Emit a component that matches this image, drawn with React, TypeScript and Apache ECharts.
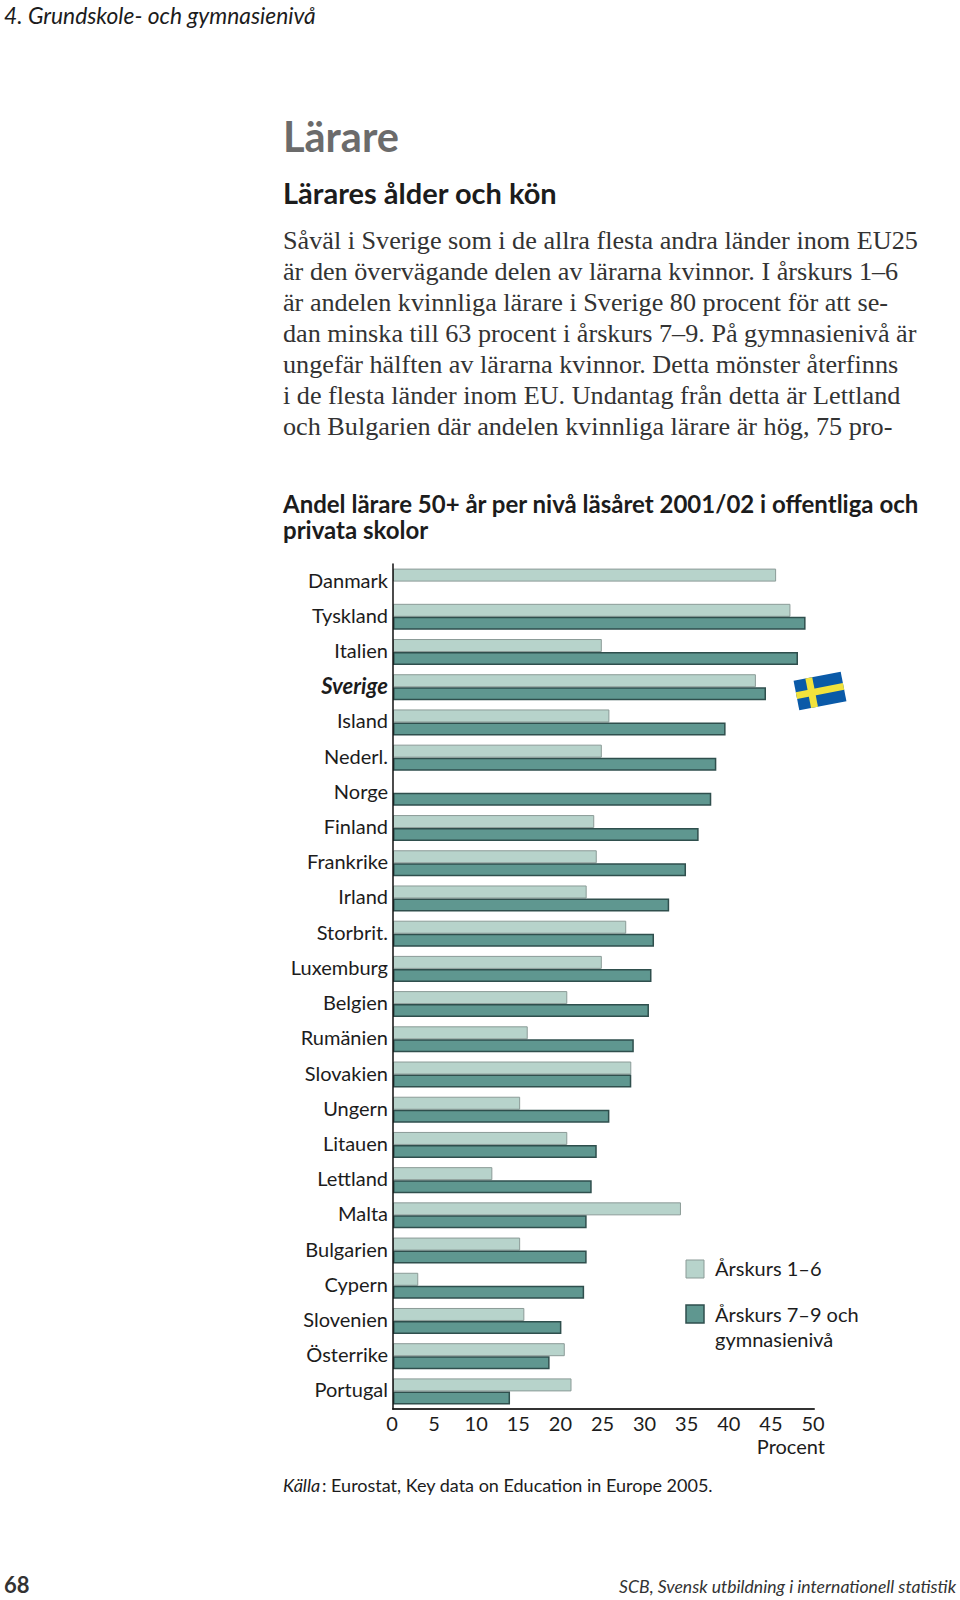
import React, { useEffect, useRef } from "react";
import * as echarts from "echarts";

const countries = ["Danmark","Tyskland","Italien","Sverige","Island","Nederl.","Norge","Finland","Frankrike","Irland","Storbrit.","Luxemburg","Belgien","Rumänien","Slovakien","Ungern","Litauen","Lettland","Malta","Bulgarien","Cypern","Slovenien","Österrike","Portugal"];
const grade1to6 = [45.5,47.2,24.8,43.1,25.7,24.8,null,23.9,24.2,23,27.7,24.8,20.7,16,28.3,15.1,20.7,11.8,34.2,15.1,3,15.6,20.4,21.2];
const grade7to12 = [null,49,48.1,44.3,39.5,38.4,37.8,36.3,34.8,32.8,31,30.7,30.4,28.6,28.3,25.7,24.2,23.6,23,23,22.7,20,18.6,13.9];
const seriesNames = ["Årskurs 1–6", "Årskurs 7–9 och gymnasienivå"];
const bodyLines = [
  "Såväl i Sverige som i de allra flesta andra länder inom EU25",
  "är den övervägande delen av lärarna kvinnor. I årskurs 1–6",
  "är andelen kvinnliga lärare i Sverige 80 procent för att se-",
  "dan minska till 63 procent i årskurs 7–9. På gymnasienivå är",
  "ungefär hälften av lärarna kvinnor. Detta mönster återfinns",
  "i de flesta länder inom EU. Undantag från detta är Lettland",
  "och Bulgarien där andelen kvinnliga lärare är hög, 75 pro-",
];
const bodyY = [240, 271, 302, 333, 364, 395, 426];

const SANS = "Lato";
const SERIF = "Liberation Serif";
const LIGHT = "#b7d3cb";
const DARK = "#5f9790";
const INK = "#1c1c1c";

const txt = (text: string, x: number, y: number, fontSize: number, extra: any = {}) => ({
  type: "text",
  x,
  y,
  style: { text, fontSize, fontFamily: SANS, fill: INK, textVerticalAlign: "middle", ...extra },
});

export default function App() {
  const ref = useRef<HTMLDivElement>(null);
  useEffect(() => {
    document.body.style.margin = "0";
    const chart = echarts.init(ref.current!, undefined, { renderer: "svg" });
    chart.setOption({
      animation: false,
      backgroundColor: "#fff",
      grid: { left: 393, top: 564, width: 421, height: 845, containLabel: false },
      xAxis: {
        type: "value", min: 0, max: 50, interval: 5,
        splitLine: { show: false },
        axisTick: { show: false },
        axisLine: { show: true, lineStyle: { color: "#333", width: 2 } },
        axisLabel: { fontFamily: SANS, fontSize: 20, color: INK, margin: 4, padding: [0, 2, 0, 0] },
      },
      yAxis: {
        type: "category", data: countries, inverse: true,
        axisTick: { show: false },
        axisLine: { show: true, lineStyle: { color: "#111", width: 1.5 } },
        z: 5,
        axisLabel: {
          fontFamily: SANS, fontSize: 20, color: INK, margin: 5, padding: [0, 0, 4, 0],
          formatter: (v: string) => (v === "Sverige" ? `{s|${v}}` : v),
          rich: { s: { fontFamily: SANS, fontSize: 22, fontStyle: "italic", fontWeight: "bold", color: INK } },
        },
      },
      series: [
        { type: "bar", name: seriesNames[0], data: grade1to6, barWidth: 13, barGap: "0%", itemStyle: { color: LIGHT, borderColor: "#8b9b97", borderWidth: 1 } },
        { type: "bar", name: seriesNames[1], data: grade7to12, barWidth: 13, barGap: "0%", itemStyle: { color: DARK, borderColor: "#2f4f4d", borderWidth: 1.5 } },
      ],
      graphic: [
        txt("4. Grundskole- och gymnasienivå", 4, 15, 22.8, { fontStyle: "italic" }),
        txt("Lärare", 283, 136, 41.5, { fontWeight: "bold", fill: "#6b6b6b" }),
        txt("Lärares ålder och kön", 283, 192, 29, { fontWeight: "bold" }),
        ...bodyLines.map((l, i) => txt(l, 283, bodyY[i], 26.2, { fontFamily: SERIF, fill: "#333" })),
        txt("Andel lärare 50+ år per nivå läsåret 2001/02 i offentliga och", 283, 503, 24, { fontWeight: "bold" }),
        txt("privata skolor", 283, 529, 24, { fontWeight: "bold" }),
        {
          type: "group", x: 820, y: 691, rotation: (11 * Math.PI) / 180,
          children: [
            { type: "rect", shape: { x: -24, y: -15, width: 48, height: 30 }, style: { fill: "#0a5aa8" } },
            { type: "rect", shape: { x: -12, y: -15, width: 7, height: 30 }, style: { fill: "#f2e23c" } },
            { type: "rect", shape: { x: -24, y: -3.5, width: 48, height: 7 }, style: { fill: "#f2e23c" } },
          ],
        },
        { type: "rect", shape: { x: 686, y: 1260, width: 18, height: 18 }, style: { fill: LIGHT, stroke: "#8b9b97", lineWidth: 1 } },
        { type: "rect", shape: { x: 686, y: 1305, width: 18, height: 18 }, style: { fill: DARK, stroke: "#2f4f4d", lineWidth: 1.5 } },
        txt(seriesNames[0], 715, 1268, 20),
        txt("Årskurs 7–9 och", 715, 1314, 20),
        txt("gymnasienivå", 715, 1339, 20),
        txt("Procent", 825, 1446, 20, { textAlign: "right" }),
        txt("Källa", 283, 1485, 18, { fontStyle: "italic" }),
        txt(": Eurostat, Key data on Education in Europe 2005.", 322, 1485, 18),
        txt("68", 4, 1584, 22, { fontWeight: "bold", fill: "#333" }),
        txt("SCB, Svensk utbildning i internationell statistik", 956, 1586, 17.6, { fontStyle: "italic", textAlign: "right", fill: "#333" }),
      ],
    });
    return () => chart.dispose();
  }, []);
  return <div ref={ref} style={{ width: 960, height: 1600 }} />;
}
